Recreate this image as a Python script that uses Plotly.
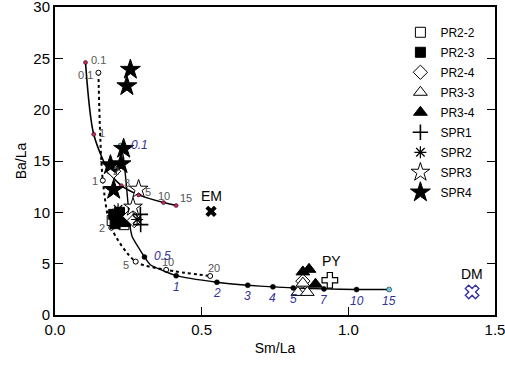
import plotly.graph_objects as go

# ---------------- data ----------------
# Curve A (solid, upper): mixing curve, labelled points
A_x = [0.104, 0.132, 0.185, 0.226, 0.285, 0.370, 0.413]
A_y = [24.6, 17.6, 13.9, 12.6, 11.7, 10.95, 10.66]
A_lab = ["0.1", "1", "2", "3", "5", "10", "15"]

# Curve B (dashed)
B_x = [0.148, 0.163, 0.192, 0.275, 0.379, 0.529]
B_y = [23.6, 13.1, 8.5, 5.2, 4.4, 3.8]
B_lab = ["0.1", "1", "2", "5", "10", "20"]

# Curve C (solid, lower) path vertices
C_x = [0.224, 0.233, 0.250, 0.254, 0.263, 0.305, 0.325, 0.413, 0.552, 0.657, 0.743, 0.812, 0.917, 1.028, 1.139]
C_y = [16.5, 15.4, 10.5, 9.0, 7.65, 5.65, 4.9, 3.83, 3.19, 2.9, 2.74, 2.64, 2.54, 2.48, 2.48]
# Curve C labelled points
Cp_x = [0.224, 0.305, 0.413, 0.552, 0.657, 0.743, 0.812, 0.917, 1.028, 1.139]
Cp_y = [16.5, 5.65, 3.83, 3.19, 2.9, 2.74, 2.64, 2.54, 2.48, 2.48]
Cp_lab = ["0.1", "0.5", "1", "2", "3", "4", "5", "7", "10", "15"]

# Samples
PR2_2_x = [0.195, 0.235]
PR2_2_y = [9.2, 8.8]
PR2_3_x = [0.200, 0.210, 0.220, 0.230, 0.205, 0.240, 0.215]
PR2_3_y = [9.8, 9.3, 10.0, 9.4, 8.9, 9.1, 9.6]
PR2_4_x = [0.255, 0.270, 0.200, 0.845]
PR2_4_y = [9.6, 9.2, 14.0, 3.3]
PR3_3_x = [0.828, 0.860, 0.845]
PR3_3_y = [2.2, 2.2, 3.1]
PR3_4_x = [0.845, 0.866, 0.888]
PR3_4_y = [4.2, 4.45, 3.0]
SPR1_x = [0.291, 0.292]
SPR1_y = [9.8, 8.8]
SPR2_x = [0.215, 0.280]
SPR2_y = [10.3, 9.3]
SPR3_x = [0.285, 0.266]
SPR3_y = [12.25, 10.5]
SPR4_x = [0.257, 0.245, 0.234, 0.189, 0.225, 0.200]
SPR4_y = [23.9, 22.3, 16.2, 14.6, 14.7, 12.2]

# End-members
EM_x, EM_y = [0.532], [10.1]
PY_x, PY_y = [0.937], [3.38]
DM_x, DM_y = [1.422], [2.25]

FONT = "Liberation Sans, Arial, sans-serif"
GRAY = "#555555"
BLUE = "#333399"

fig = go.Figure()

# curves
fig.add_trace(go.Scatter(x=A_x, y=A_y, mode="lines+markers", showlegend=False,
                         line=dict(color="black", width=1.6, shape="spline", smoothing=0.8),
                         marker=dict(size=4, color="#cc2266", line=dict(color="black", width=0.5)),
                         hoverinfo="skip"))
fig.add_trace(go.Scatter(x=B_x, y=B_y, mode="lines+markers", showlegend=False,
                         line=dict(color="black", width=2, dash="dot", shape="spline", smoothing=0.8),
                         marker=dict(size=5, color="white", line=dict(color="black", width=1)),
                         hoverinfo="skip"))
fig.add_trace(go.Scatter(x=C_x, y=C_y, mode="lines", showlegend=False,
                         line=dict(color="black", width=1.4, shape="spline", smoothing=0.5),
                         hoverinfo="skip"))
c_colors = ["#66ccdd"] + ["black"] * (len(Cp_x) - 2) + ["#66ccdd"]
fig.add_trace(go.Scatter(x=Cp_x, y=Cp_y, mode="markers", showlegend=False,
                         marker=dict(size=5, color=c_colors, line=dict(color="black", width=0.5)),
                         hoverinfo="skip"))

# samples
def add_sample(name, xs, ys, symbol, size, color="black", lcolor="black", lw=1):
    fig.add_trace(go.Scatter(x=xs, y=ys, mode="markers", name=name, legendgroup=name,
                             marker=dict(symbol=symbol, size=size, color=color,
                                         line=dict(color=lcolor, width=lw))))

add_sample("PR2-2", PR2_2_x, PR2_2_y, "square", 10, color="white")
add_sample("PR2-3", PR2_3_x, PR2_3_y, "square", 10)
add_sample("PR2-4", PR2_4_x, PR2_4_y, "diamond", 11, color="white")
add_sample("PR3-3", PR3_3_x, PR3_3_y, "triangle-up", 12, color="white")
add_sample("PR3-4", PR3_4_x, PR3_4_y, "triangle-up", 12)
add_sample("SPR1", SPR1_x, SPR1_y, "cross-thin", 11, lw=1.6)
add_sample("SPR2", SPR2_x, SPR2_y, "asterisk", 10, lw=1.2)
add_sample("SPR3", SPR3_x, SPR3_y, "star", 14, color="white")
add_sample("SPR4", SPR4_x, SPR4_y, "star", 15)

# end-members
fig.add_trace(go.Scatter(x=EM_x, y=EM_y, mode="markers", showlegend=False,
                         marker=dict(symbol="x", size=10, color="black", line=dict(width=0))))
fig.add_trace(go.Scatter(x=PY_x, y=PY_y, mode="markers", showlegend=False,
                         marker=dict(symbol="cross", size=13, color="white", line=dict(color="black", width=1.2))))
fig.add_trace(go.Scatter(x=DM_x, y=DM_y, mode="markers", showlegend=False,
                         marker=dict(symbol="x", size=12, color="white", line=dict(color=BLUE, width=1.4))))

ann = []
def lab(x, y, t, dx, dy, color=GRAY, size=11, italic=False, xa="center"):
    txt = f"<i>{t}</i>" if italic else t
    ann.append(dict(x=x, y=y, text=txt, showarrow=False, xshift=dx, yshift=dy, xanchor=xa,
                    font=dict(family=FONT, size=size, color=color)))

# curve A labels
A_off = [(3, 2), (3, 1), (2, 1), (1, 3), (4, 3), (0, 7), (2, 8)]
for x, y, t, (dx, dy) in zip(A_x, A_y, A_lab, A_off):
    lab(x, y, t, dx, dy, xa="left" if dx else "center")
# curve B labels
B_off = [(-3, -2), (-3, 0), (-4, 0), (-5, -3), (2, 8), (4, 8)]
for x, y, t, (dx, dy) in zip(B_x, B_y, B_lab, B_off):
    lab(x, y, t, dx, dy, xa="right" if dx < 0 else "center")
# curve C labels
for i, (x, y, t) in enumerate(zip(Cp_x, Cp_y, Cp_lab)):
    if i < 2:
        lab(x, y, t, 8, 1, color=BLUE, size=12, italic=True, xa="left")
    else:
        lab(x, y, t, 0, -11, color=BLUE, size=12, italic=True)
# end-member labels
lab(EM_x[0], EM_y[0], "EM", 0, 15, color="black", size=14)
lab(PY_x[0], PY_y[0], "PY", 2, 19, color="black", size=14)
lab(DM_x[0], DM_y[0], "DM", 0, 18, color="black", size=14)

fig.update_layout(
    width=505, height=367,
    margin=dict(l=55, r=10, t=7, b=52, autoexpand=False),
    paper_bgcolor="white", plot_bgcolor="white",
    font=dict(family=FONT, color="black"),
    annotations=ann,
    legend=dict(x=0.785, y=0.965, xanchor="left", yanchor="top", bgcolor="rgba(0,0,0,0)",
                font=dict(family=FONT, size=12), tracegroupgap=1),
    xaxis=dict(range=[0, 1.5], dtick=0.5, tickformat=".1f", showline=True, mirror=True,
               linecolor="black", linewidth=2, ticks="inside", ticklen=8, tickcolor="black",
               showgrid=False, zeroline=False, tickfont=dict(size=15), automargin=True,
               ticklabeloverflow="allow",
               title=dict(text="Sm/La", font=dict(size=14), standoff=6)),
    yaxis=dict(range=[0, 30], dtick=5, showline=True, mirror="ticks",
               linecolor="black", linewidth=2, ticks="inside", ticklen=8, tickcolor="black",
               showgrid=False, zeroline=False, tickfont=dict(size=15), automargin=True,
               ticklabeloverflow="allow",
               title=dict(text="Ba/La", font=dict(size=14), standoff=3)),
)

fig.write_html("out.html", config={"displayModeBar": False},
               post_script="document.body.style.margin='0';document.body.style.overflow='hidden';")
